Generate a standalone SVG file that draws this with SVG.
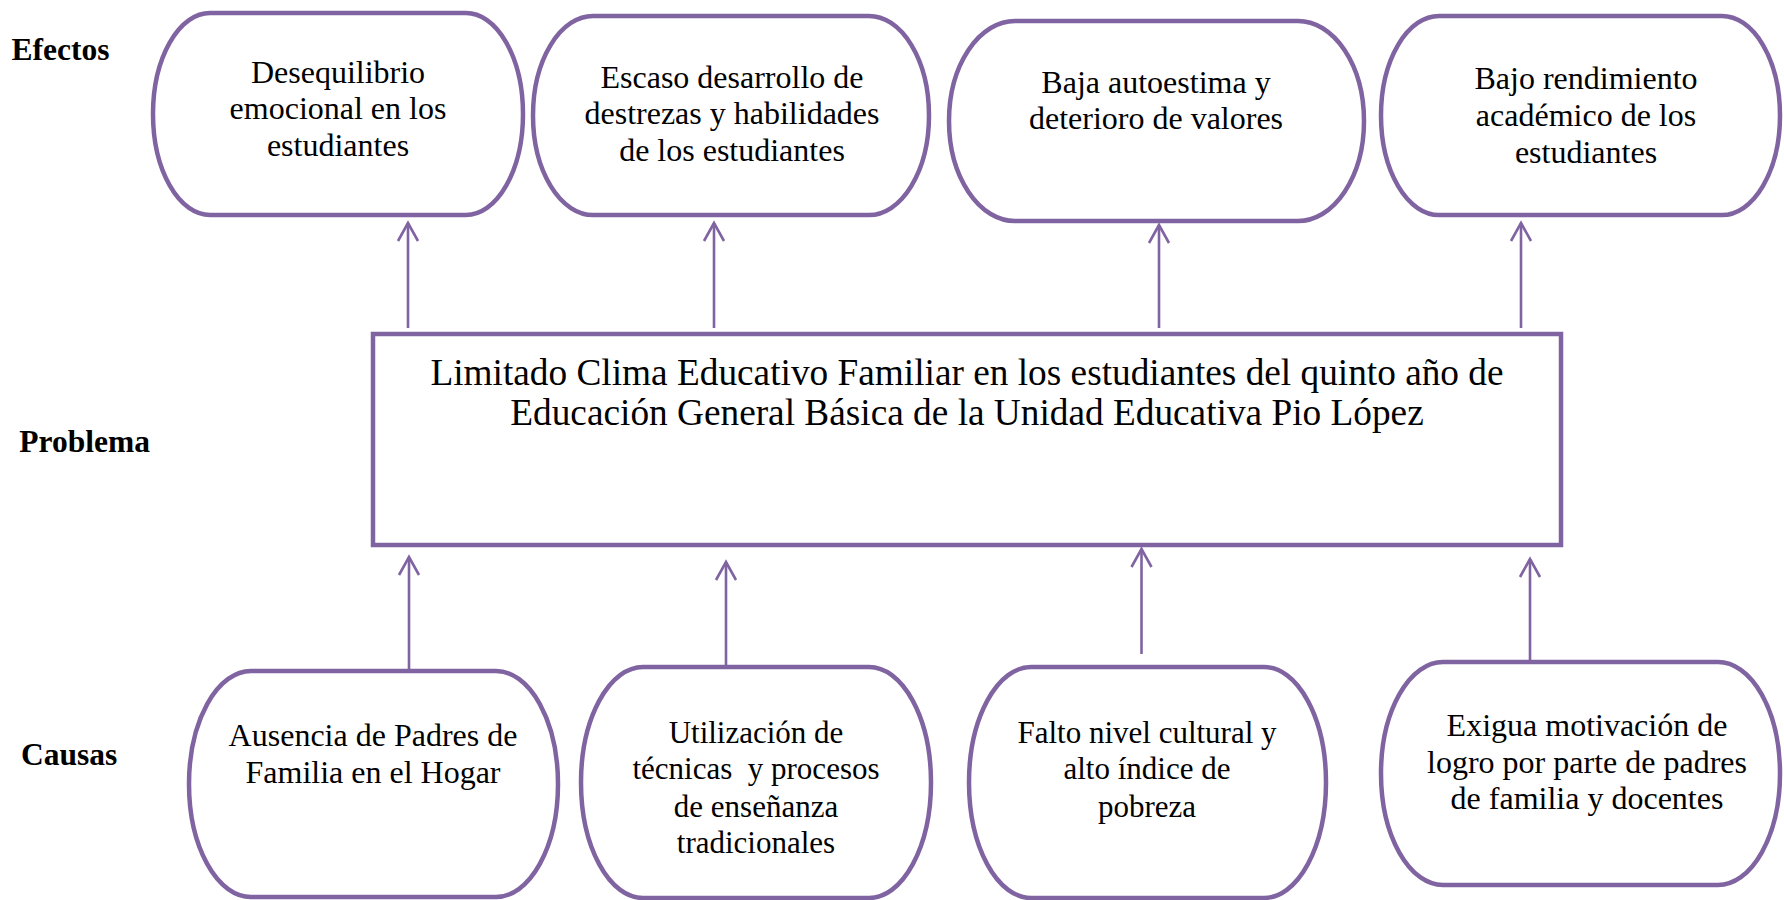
<svg xmlns="http://www.w3.org/2000/svg" width="1784" height="900" viewBox="0 0 1784 900">
<style>
.box{fill:#fff;stroke:#8064A2;stroke-width:4.5}
.lbl{font-family:"Liberation Serif","Times New Roman",serif;font-weight:bold;font-size:31.5px;fill:#000}
.t{font-family:"Liberation Serif","Times New Roman",serif;font-size:32px;fill:#000;text-anchor:middle}
.tc{font-family:"Liberation Serif","Times New Roman",serif;font-size:31px;fill:#000;text-anchor:middle}
.tp{font-family:"Liberation Serif","Times New Roman",serif;font-size:37.3px;fill:#000;text-anchor:middle}
.con{stroke:#8064A2;stroke-width:2.6;fill:none}
</style>
<defs>
<marker id="ah" markerUnits="userSpaceOnUse" viewBox="-20 -12 22 24" markerWidth="22" markerHeight="24" refX="0" refY="0" orient="auto" overflow="visible">
<path d="M-18,-10 L0,0 L-18,10" fill="none" stroke="#8064A2" stroke-width="2.6"/>
</marker>
</defs>
<rect width="1784" height="900" fill="#fff"/>

<g id="labels">
<text class="lbl" x="11.5" y="60">Efectos</text>
<text class="lbl" x="19.3" y="451.7">Problema</text>
<text class="lbl" x="21" y="765">Causas</text>
</g>

<g id="connectors">
<line class="con" x1="408" y1="328" x2="408" y2="223" marker-end="url(#ah)"/>
<line class="con" x1="714" y1="328" x2="714" y2="223" marker-end="url(#ah)"/>
<line class="con" x1="1159" y1="328" x2="1159" y2="225" marker-end="url(#ah)"/>
<line class="con" x1="1521" y1="328" x2="1521" y2="223" marker-end="url(#ah)"/>
<line class="con" x1="409" y1="677" x2="409" y2="557" marker-end="url(#ah)"/>
<line class="con" x1="726" y1="667" x2="726" y2="562" marker-end="url(#ah)"/>
<line class="con" x1="1141.5" y1="654" x2="1141.5" y2="549" marker-end="url(#ah)"/>
<line class="con" x1="1530" y1="662" x2="1530" y2="559" marker-end="url(#ah)"/>
</g>

<g id="efecto1">
<rect class="box" x="153" y="13" width="370" height="202" rx="57" ry="101"/>
<text class="t" x="338" y="82.5">Desequilibrio</text>
<text class="t" x="338" y="119.2">emocional en los</text>
<text class="t" x="338" y="156">estudiantes</text>
</g>

<g id="efecto2">
<rect class="box" x="533" y="16" width="396" height="199" rx="60" ry="99.5"/>
<text class="t" x="732" y="87.5">Escaso desarrollo de</text>
<text class="t" x="732" y="124.2">destrezas y habilidades</text>
<text class="t" x="732" y="161">de los estudiantes</text>
</g>

<g id="efecto3">
<rect class="box" x="949" y="21" width="415" height="200" rx="66" ry="100"/>
<text class="t" x="1156" y="92.5">Baja autoestima y</text>
<text class="t" x="1156" y="129.2">deterioro de valores</text>
</g>

<g id="efecto4">
<rect class="box" x="1381" y="16" width="399" height="199" rx="58" ry="99.5"/>
<text class="t" x="1586" y="89.2">Bajo rendimiento</text>
<text class="t" x="1586" y="126">académico de los</text>
<text class="t" x="1586" y="162.6">estudiantes</text>
</g>

<g id="problema">
<rect class="box" x="373" y="334" width="1188" height="211"/>
<text class="tp" x="967" y="384.5">Limitado Clima Educativo Familiar en los estudiantes del quinto año de</text>
<text class="tp" x="967" y="424.5">Educación General Básica de la Unidad Educativa Pio López</text>
</g>

<g id="causa1">
<rect class="box" x="189" y="671" width="369" height="226" rx="62" ry="113"/>
<text class="t" x="373" y="746">Ausencia de Padres de</text>
<text class="t" x="373" y="782.7">Familia en el Hogar</text>
</g>

<g id="causa2">
<rect class="box" x="581" y="667" width="350" height="231" rx="62" ry="115.5"/>
<text class="tc" x="756" y="742.5">Utilización de</text>
<text class="tc" x="756" y="779.2" xml:space="preserve">técnicas  y procesos</text>
<text class="tc" x="756" y="816.5">de enseñanza</text>
<text class="tc" x="756" y="852.5">tradicionales</text>
</g>

<g id="causa3">
<rect class="box" x="969" y="667" width="357" height="231" rx="62" ry="115.5"/>
<text class="tc" x="1147" y="742.5">Falto nivel cultural y</text>
<text class="tc" x="1147" y="779.2">alto índice de</text>
<text class="tc" x="1147" y="817">pobreza</text>
</g>

<g id="causa4">
<rect class="box" x="1381" y="662" width="399" height="223" rx="62" ry="111.5"/>
<text class="t" x="1587" y="736">Exigua motivación de</text>
<text class="t" x="1587" y="772.7">logro por parte de padres</text>
<text class="t" x="1587" y="809">de familia y docentes</text>
</g>
</svg>
